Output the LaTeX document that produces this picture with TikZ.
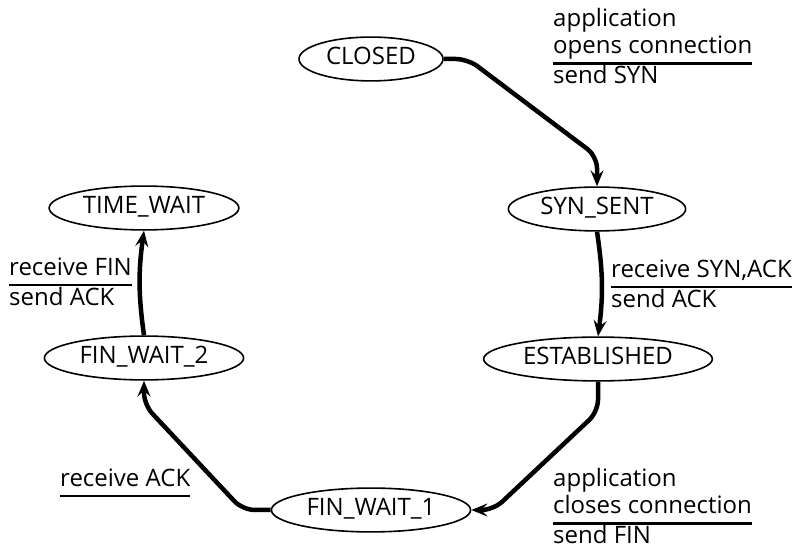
\documentclass[tikz,border=0pt]{standalone}
\usepackage{fontspec}
\setmainfont{Open Sans}
\usepackage{tikz}
\usetikzlibrary{arrows.meta}
\usetikzlibrary{calc}
\usetikzlibrary{shapes.geometric}
\setlength{\arrayrulewidth}{2.5pt}

\begin{document}
\begin{tikzpicture}[x=1pt,y=1pt,
    font=\fontsize{24}{27.5}\selectfont,
    state/.style={shape=ellipse,draw,line width=1.6pt,inner xsep=6pt,inner ysep=4pt,
                  text height=17.5pt,text depth=5.5pt},
    trans/.style={line width=4.5pt,rounded corners=12pt,
                  -{Stealth[length=16pt,width=13pt,inset=6pt]}},
    cond/.style={anchor=north west,inner sep=0pt}]

      \useasboundingbox (0,0) rectangle (795,546);

      \path node (closed) at (371,487) [state] {CLOSED};
      \path node (synsent) at (597,337) [state] {SYN\_SENT};
      \path node (established) at (598,187) [state] {ESTABLISHED};
      \path node (finwait1) at (371,36) [state] {FIN\_WAIT\_1};
      \path node (finwait2) at (144,188) [state] {FIN\_WAIT\_2};
      \path node (timewait) at (144,338) [state] {TIME\_WAIT};

      \draw[trans] (closed.east) -- ++(24,0)
           -- ($(synsent.north)+(0,30)$) -- (synsent.north);
      \draw[trans] (synsent.south) to[bend left=8] (established.north);
      \draw[trans] (established.south) -- ++(0,-30)
           -- ($(finwait1.east)+(22,0)$) -- (finwait1.east);
      \draw[trans] (finwait1.west) -- ++(-28,0)
           -- ($(finwait2.south)+(0,-24)$) -- (finwait2.south);
      \draw[trans] (finwait2.north) to[bend left=8] (timewait.south);

      \path node (opencond) at (553,539) [cond]
            {\begin{tabular}{@{}l@{}}application\\ opens connection\\ \hline send SYN\end{tabular}};
      \path node (synackcond) at (611,288) [cond]
            {\begin{tabular}{@{}l@{}}receive SYN,ACK\\ \hline send ACK\end{tabular}};
      \path node (fincond) at (9,290) [cond]
            {\begin{tabular}{@{}l@{}}receive FIN\\ \hline send ACK\end{tabular}};
      \path node (ackcond) at (60,79) [cond]
            {\begin{tabular}{@{}l@{}}receive ACK\\ \hline\end{tabular}};
      \path node (closecond) at (553,79) [cond]
            {\begin{tabular}{@{}l@{}}application\\ closes connection\\ \hline send FIN\end{tabular}};
    \end{tikzpicture}
\end{document}
